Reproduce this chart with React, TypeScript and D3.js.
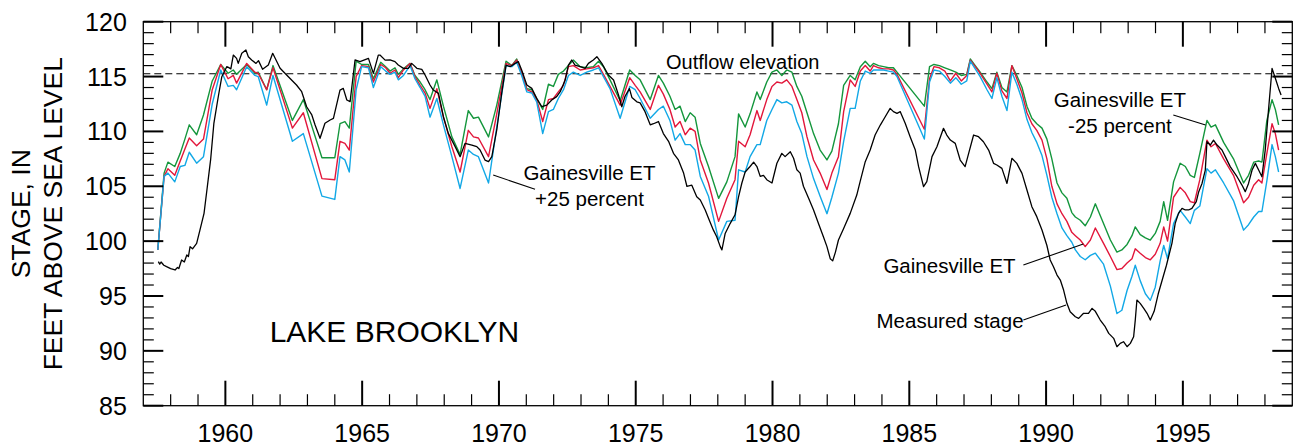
import React from "react";
import * as d3 from "d3";

// Simulated lake stage (ft above sea level) with Gainesville ET reduced 25 percent
const stageEtMinus25: [number, number][] = [
  [1957.53, 99.2], [1957.76, 106.2], [1957.9, 107.2], [1958.15, 106.8], [1958.35, 108.0], [1958.52, 109.3], [1958.68, 110.6], [1958.95, 109.7], [1959.2, 111.5], [1959.52, 114.6], [1959.83, 116.1],
  [1960.1, 115.3], [1960.29, 115.6], [1960.41, 115.2], [1960.78, 116.1], [1961.08, 115.3], [1961.2, 115.4], [1961.51, 113.8], [1961.74, 116.0], [1962.45, 111.0], [1962.85, 112.9],
  [1963.53, 107.6], [1964.0, 107.6], [1964.19, 110.7], [1964.37, 110.9], [1964.53, 110.3], [1964.78, 116.4], [1964.98, 116.1], [1965.23, 116.1], [1965.41, 114.8], [1965.68, 116.3], [1965.86, 115.9],
  [1966.02, 115.5], [1966.2, 115.8], [1966.32, 115.2], [1966.51, 115.7], [1966.75, 116.2], [1966.93, 115.1], [1967.12, 114.5], [1967.3, 113.8], [1967.48, 112.9], [1967.73, 114.7], [1967.97, 112.3],
  [1968.28, 109.5], [1968.58, 107.9], [1968.88, 111.9], [1969.07, 111.2], [1969.25, 111.3], [1969.62, 109.5], [1969.92, 112.4], [1970.26, 116.4], [1970.47, 116.0], [1970.65, 116.6], [1970.83, 115.3],
  [1971.02, 113.9], [1971.2, 113.8], [1971.38, 113.0], [1971.6, 112.0], [1971.81, 114.3], [1971.99, 114.1], [1972.17, 115.2], [1972.36, 115.5], [1972.54, 116.0], [1972.72, 116.5], [1972.97, 115.9],
  [1973.21, 115.8], [1973.45, 115.9], [1973.64, 116.4], [1973.82, 115.9], [1974.06, 114.7], [1974.43, 112.8], [1974.78, 115.6], [1974.98, 115.1], [1975.16, 114.7], [1975.53, 112.9], [1975.83, 115.1],
  [1976.01, 114.4], [1976.25, 113.2], [1976.44, 112.0], [1976.62, 112.3], [1976.81, 110.9], [1976.99, 111.7], [1977.17, 111.3], [1977.36, 108.9], [1977.66, 106.8], [1978.03, 103.9], [1978.33, 105.4],
  [1978.63, 107.7], [1978.76, 111.6], [1979.0, 110.4], [1979.18, 111.6], [1979.43, 113.6], [1979.55, 112.9], [1979.79, 114.5], [1979.98, 115.4], [1980.16, 115.6], [1980.34, 115.1], [1980.52, 115.6],
  [1980.71, 115.4], [1980.89, 114.1], [1981.07, 113.2], [1981.26, 111.7], [1981.5, 109.8], [1981.74, 108.3], [1981.99, 107.4], [1982.17, 108.2], [1982.41, 110.7], [1982.6, 114.2], [1982.84, 115.1],
  [1983.02, 114.7], [1983.21, 115.9], [1983.39, 116.4], [1983.57, 115.9], [1983.69, 116.2], [1983.88, 116.0], [1984.06, 115.9], [1984.24, 115.8], [1984.42, 115.8], [1984.55, 115.4], [1985.55, 112.3],
  [1985.74, 115.9], [1985.9, 116.1], [1986.1, 116.0], [1986.3, 115.8], [1986.5, 115.6], [1986.7, 115.4], [1986.9, 115.1], [1987.1, 115.2], [1987.23, 116.6], [1987.41, 116.0], [1987.59, 115.4],
  [1987.84, 114.5], [1988.02, 113.9], [1988.2, 115.4], [1988.385, 114.0], [1988.57, 113.6], [1988.75, 116.0], [1988.93, 115.1], [1989.12, 114.0], [1989.3, 112.3], [1989.48, 111.2], [1989.66, 110.7],
  [1989.85, 110.3], [1990.03, 109.3], [1990.21, 107.5], [1990.4, 105.3], [1990.58, 104.4], [1990.76, 103.9], [1990.94, 102.6], [1991.07, 102.2], [1991.25, 101.9], [1991.43, 101.4], [1991.62, 102.2],
  [1991.8, 103.4], [1992.1, 101.6], [1992.35, 100.1], [1992.59, 99.0], [1992.77, 99.2], [1992.96, 99.7], [1993.14, 100.5], [1993.26, 101.3], [1993.44, 100.6], [1993.63, 100.3], [1993.81, 100.1],
  [1993.99, 100.7], [1994.17, 101.8], [1994.3, 103.6], [1994.44, 101.9], [1994.66, 105.4], [1994.9, 107.1], [1995.09, 106.8], [1995.27, 106.0], [1995.42, 105.8], [1995.62, 108.0], [1995.88, 111.0],
  [1996.03, 110.4], [1996.19, 110.6], [1996.49, 109.0], [1996.85, 107.5], [1997.22, 105.3], [1997.4, 106.0], [1997.59, 107.2], [1997.77, 107.3], [1997.89, 107.2], [1998.07, 111.0], [1998.26, 112.9],
  [1998.38, 112.0], [1998.5, 110.6],
];

// Simulated lake stage with Gainesville ET
const stageEt: [number, number][] = [
  [1957.53, 99.2], [1957.76, 105.9], [1957.9, 106.6], [1958.15, 106.0], [1958.35, 107.3], [1958.52, 108.4], [1958.68, 109.4], [1958.95, 108.7], [1959.2, 109.3], [1959.52, 113.8], [1959.83, 116.1],
  [1960.1, 114.8], [1960.29, 115.1], [1960.41, 114.4], [1960.78, 116.2], [1961.08, 115.4], [1961.2, 115.3], [1961.51, 113.8], [1961.74, 115.8], [1962.45, 110.3], [1962.85, 111.7],
  [1963.53, 105.7], [1964.0, 105.6], [1964.19, 109.1], [1964.37, 108.9], [1964.53, 108.3], [1964.78, 115.0], [1964.98, 116.0], [1965.23, 115.9], [1965.41, 114.5], [1965.68, 116.1], [1965.86, 115.8],
  [1966.02, 115.3], [1966.2, 115.6], [1966.32, 114.9], [1966.51, 115.6], [1966.75, 116.2], [1966.93, 115.0], [1967.12, 114.2], [1967.3, 113.5], [1967.48, 112.1], [1967.73, 113.9], [1967.97, 111.3],
  [1968.28, 108.6], [1968.58, 106.3], [1968.88, 110.1], [1969.07, 109.5], [1969.25, 109.4], [1969.62, 107.7], [1969.92, 111.6], [1970.26, 116.2], [1970.47, 116.0], [1970.65, 116.5], [1970.83, 115.3],
  [1971.02, 113.8], [1971.2, 113.6], [1971.38, 112.9], [1971.6, 110.9], [1971.81, 112.9], [1971.99, 113.0], [1972.17, 113.6], [1972.36, 114.2], [1972.54, 115.9], [1972.72, 116.0], [1972.97, 115.6],
  [1973.21, 115.7], [1973.45, 115.8], [1973.64, 116.0], [1973.82, 115.2], [1974.06, 114.1], [1974.43, 112.4], [1974.78, 114.9], [1974.98, 114.2], [1975.16, 113.6], [1975.53, 112.0], [1975.83, 114.2],
  [1976.01, 113.4], [1976.25, 112.0], [1976.44, 110.4], [1976.62, 110.9], [1976.81, 109.7], [1976.99, 110.3], [1977.17, 110.0], [1977.36, 107.4], [1977.66, 105.3], [1978.03, 101.8], [1978.33, 103.9],
  [1978.63, 105.6], [1978.76, 109.1], [1979.0, 108.6], [1979.18, 109.7], [1979.43, 111.9], [1979.55, 111.0], [1979.79, 112.9], [1979.98, 114.1], [1980.16, 114.5], [1980.34, 114.4], [1980.52, 114.7],
  [1980.71, 114.1], [1980.89, 112.9], [1981.07, 111.7], [1981.26, 109.5], [1981.5, 107.4], [1981.74, 106.2], [1981.99, 104.7], [1982.17, 106.2], [1982.41, 107.7], [1982.6, 111.8], [1982.84, 114.7],
  [1983.02, 114.1], [1983.21, 115.5], [1983.39, 116.0], [1983.57, 115.5], [1983.69, 116.0], [1983.88, 115.8], [1984.06, 115.7], [1984.24, 115.7], [1984.42, 115.6], [1984.55, 115.2], [1985.55, 110.2],
  [1985.74, 114.8], [1985.9, 115.9], [1986.1, 115.8], [1986.3, 115.5], [1986.5, 114.6], [1986.7, 115.3], [1986.9, 114.6], [1987.1, 115.1], [1987.23, 116.5], [1987.41, 115.9], [1987.59, 115.3],
  [1987.84, 114.3], [1988.02, 113.6], [1988.2, 115.3], [1988.385, 113.7], [1988.57, 113.0], [1988.75, 116.0], [1988.93, 114.8], [1989.12, 113.5], [1989.3, 111.7], [1989.48, 110.7], [1989.66, 110.1],
  [1989.85, 109.2], [1990.03, 107.5], [1990.21, 105.0], [1990.4, 103.4], [1990.58, 102.5], [1990.76, 101.8], [1990.94, 100.8], [1991.07, 100.5], [1991.25, 100.1], [1991.43, 99.5], [1991.62, 100.1],
  [1991.8, 101.2], [1992.1, 99.8], [1992.35, 98.6], [1992.59, 97.4], [1992.77, 97.5], [1992.96, 98.0], [1993.14, 98.4], [1993.26, 99.3], [1993.44, 98.9], [1993.63, 98.5], [1993.81, 98.3],
  [1993.99, 98.8], [1994.17, 99.8], [1994.3, 101.3], [1994.44, 100.0], [1994.66, 104.0], [1994.9, 104.9], [1995.09, 104.4], [1995.27, 103.6], [1995.42, 103.5], [1995.62, 105.6], [1995.88, 109.2],
  [1996.03, 108.6], [1996.19, 108.9], [1996.49, 107.5], [1996.85, 106.0], [1997.22, 103.5], [1997.4, 104.0], [1997.59, 105.1], [1997.77, 105.6], [1997.89, 105.3], [1998.07, 108.0], [1998.26, 110.7],
  [1998.38, 109.8], [1998.5, 108.3],
];

// Simulated lake stage with Gainesville ET increased 25 percent
const stageEtPlus25: [number, number][] = [
  [1957.53, 99.2], [1957.76, 105.9], [1957.9, 106.2], [1958.15, 105.4], [1958.35, 106.8], [1958.52, 106.9], [1958.68, 108.1], [1958.95, 107.1], [1959.2, 107.7], [1959.52, 112.5], [1959.83, 115.6],
  [1960.1, 114.1], [1960.29, 114.2], [1960.41, 113.8], [1960.78, 115.9], [1961.08, 115.1], [1961.2, 115.0], [1961.51, 112.4], [1961.74, 115.1], [1962.45, 109.1], [1962.85, 109.8],
  [1963.53, 104.1], [1964.0, 103.8], [1964.19, 107.7], [1964.37, 107.4], [1964.53, 106.3], [1964.78, 113.8], [1964.98, 115.9], [1965.23, 115.8], [1965.41, 114.0], [1965.68, 115.9], [1965.86, 115.5],
  [1966.02, 115.2], [1966.2, 115.4], [1966.32, 114.7], [1966.51, 115.1], [1966.75, 116.0], [1966.93, 114.8], [1967.12, 114.0], [1967.3, 113.2], [1967.48, 111.3], [1967.73, 113.0], [1967.97, 110.6],
  [1968.28, 107.7], [1968.58, 104.8], [1968.88, 108.3], [1969.07, 107.9], [1969.25, 107.7], [1969.62, 105.3], [1969.92, 110.4], [1970.26, 116.0], [1970.47, 115.9], [1970.65, 116.3], [1970.83, 115.1],
  [1971.02, 113.6], [1971.2, 113.5], [1971.38, 112.7], [1971.6, 109.8], [1971.81, 111.8], [1971.99, 112.0], [1972.17, 113.0], [1972.36, 113.8], [1972.54, 115.1], [1972.72, 115.4], [1972.97, 115.1],
  [1973.21, 115.4], [1973.45, 115.6], [1973.64, 115.8], [1973.82, 115.0], [1974.06, 113.9], [1974.43, 111.2], [1974.78, 114.1], [1974.98, 113.8], [1975.16, 113.0], [1975.53, 111.2], [1975.83, 112.0],
  [1976.01, 112.3], [1976.25, 111.0], [1976.44, 109.2], [1976.62, 109.8], [1976.81, 108.8], [1976.99, 108.8], [1977.17, 108.3], [1977.36, 105.9], [1977.66, 104.1], [1978.03, 100.1], [1978.33, 101.8],
  [1978.63, 101.9], [1978.76, 106.5], [1979.0, 106.3], [1979.18, 107.7], [1979.43, 108.8], [1979.55, 108.8], [1979.79, 111.0], [1979.98, 112.0], [1980.16, 112.9], [1980.34, 112.6], [1980.52, 112.7],
  [1980.71, 112.4], [1980.89, 110.9], [1981.07, 109.8], [1981.26, 107.7], [1981.5, 105.7], [1981.74, 104.1], [1981.99, 102.5], [1982.17, 104.0], [1982.41, 106.2], [1982.6, 109.1], [1982.84, 112.1],
  [1983.02, 112.1], [1983.21, 114.6], [1983.39, 115.5], [1983.57, 115.3], [1983.69, 115.6], [1983.88, 115.6], [1984.06, 115.6], [1984.24, 115.5], [1984.42, 115.4], [1984.55, 115.0], [1985.55, 109.3],
  [1985.74, 114.5], [1985.9, 115.6], [1986.1, 115.5], [1986.3, 115.0], [1986.5, 114.4], [1986.7, 114.9], [1986.9, 114.3], [1987.1, 114.6], [1987.23, 116.4], [1987.41, 115.7], [1987.59, 115.0],
  [1987.84, 113.8], [1988.02, 113.0], [1988.2, 114.9], [1988.385, 113.2], [1988.57, 111.9], [1988.75, 115.4], [1988.93, 114.3], [1989.12, 112.9], [1989.3, 111.1], [1989.48, 109.9], [1989.66, 109.0],
  [1989.85, 107.8], [1990.03, 106.0], [1990.21, 104.0], [1990.4, 102.5], [1990.58, 101.2], [1990.76, 100.5], [1990.94, 99.9], [1991.07, 99.2], [1991.25, 98.6], [1991.43, 98.3], [1991.62, 98.7],
  [1991.8, 98.9], [1992.1, 97.9], [1992.35, 95.9], [1992.59, 93.4], [1992.77, 93.7], [1992.96, 95.5], [1993.14, 96.8], [1993.26, 97.8], [1993.44, 96.4], [1993.63, 95.2], [1993.81, 94.6],
  [1993.99, 95.8], [1994.17, 98.2], [1994.3, 99.6], [1994.44, 98.4], [1994.66, 101.6], [1994.9, 102.8], [1995.09, 102.2], [1995.27, 101.6], [1995.42, 102.8], [1995.62, 103.2], [1995.88, 106.6],
  [1996.03, 106.2], [1996.19, 106.5], [1996.49, 105.3], [1996.85, 103.7], [1997.22, 101.0], [1997.4, 101.5], [1997.59, 102.2], [1997.77, 102.7], [1997.89, 102.7], [1998.07, 105.5], [1998.26, 108.8],
  [1998.38, 107.7], [1998.5, 106.3],
];

// Measured stage of Lake Brooklyn
const measuredStage: [number, number][] = [
  [1957.55, 98.13], [1957.6, 97.9], [1957.65, 98.1], [1957.75, 97.8], [1957.85, 97.67], [1958.0, 97.5], [1958.16, 97.37], [1958.25, 97.6], [1958.3, 97.5], [1958.4, 98.28], [1958.5, 98.1],
  [1958.59, 98.74], [1958.65, 98.6], [1958.71, 99.49], [1958.8, 99.3], [1958.95, 99.8], [1959.07, 101.0], [1959.22, 102.53], [1959.34, 104.96], [1959.46, 107.4], [1959.58, 110.74], [1959.74, 113.16],
  [1959.87, 114.99], [1960.05, 115.9], [1960.11, 115.84], [1960.2, 115.7], [1960.29, 116.96], [1960.41, 116.66], [1960.47, 116.2], [1960.6, 117.12], [1960.75, 117.42], [1960.84, 116.81], [1960.96, 116.51],
  [1961.12, 116.2], [1961.21, 116.45], [1961.36, 115.66], [1961.57, 116.05], [1961.73, 117.12], [1962.0, 115.76], [1962.24, 115.14], [1962.6, 114.23], [1962.79, 113.62], [1962.97, 112.25], [1963.16, 111.5],
  [1963.28, 110.58], [1963.46, 109.37], [1963.64, 110.74], [1963.83, 111.04], [1963.95, 111.19], [1964.19, 113.77], [1964.31, 113.92], [1964.44, 112.86], [1964.56, 112.71], [1964.74, 116.51], [1964.92, 116.36],
  [1965.23, 116.66], [1965.41, 115.29], [1965.59, 116.96], [1965.65, 116.96], [1965.84, 116.5], [1966.02, 116.51], [1966.2, 116.36], [1966.32, 116.05], [1966.51, 115.75], [1966.69, 115.75], [1966.81, 116.2],
  [1967.0, 115.75], [1967.18, 115.66], [1967.3, 115.14], [1967.48, 114.23], [1967.6, 113.77], [1967.79, 113.47], [1967.97, 111.34], [1968.15, 109.82], [1968.4, 108.61], [1968.58, 107.7], [1968.76, 108.91],
  [1969.01, 108.76], [1969.19, 108.61], [1969.31, 108.3], [1969.49, 107.39], [1969.62, 107.24], [1969.74, 107.7], [1969.92, 110.13], [1970.1, 113.47], [1970.26, 116.05], [1970.41, 115.9], [1970.59, 116.2],
  [1970.71, 116.36], [1970.83, 115.6], [1971.02, 114.23], [1971.2, 113.92], [1971.38, 113.01], [1971.57, 112.25], [1971.75, 112.4], [1971.93, 112.86], [1972.11, 113.17], [1972.24, 113.62], [1972.42, 114.68],
  [1972.54, 116.05], [1972.66, 116.51], [1972.78, 116.05], [1972.97, 115.9], [1973.15, 115.75], [1973.27, 116.2], [1973.45, 116.51], [1973.58, 116.81], [1973.76, 116.2], [1974.0, 115.14], [1974.19, 114.68],
  [1974.37, 113.32], [1974.49, 112.25], [1974.61, 113.2], [1974.77, 113.9], [1974.86, 113.1], [1975.04, 112.7], [1975.16, 112.6], [1975.34, 111.8], [1975.53, 110.6], [1975.65, 110.7], [1975.83, 110.9],
  [1976.01, 109.8], [1976.2, 109.1], [1976.38, 108.0], [1976.56, 107.4], [1976.75, 106.2], [1976.87, 105.0], [1977.05, 105.1], [1977.23, 104.05], [1977.36, 103.75], [1977.54, 102.84], [1977.66, 102.08],
  [1977.84, 101.0], [1977.96, 100.4], [1978.09, 99.5], [1978.15, 99.2], [1978.27, 100.7], [1978.45, 101.6], [1978.63, 102.4], [1978.76, 104.05], [1978.88, 105.3], [1979.0, 106.3], [1979.18, 106.8],
  [1979.31, 107.2], [1979.43, 106.8], [1979.55, 105.9], [1979.67, 106.0], [1979.79, 105.6], [1979.98, 105.3], [1980.16, 107.1], [1980.34, 108.0], [1980.46, 107.7], [1980.65, 108.15], [1980.77, 107.55],
  [1980.89, 106.5], [1981.01, 106.2], [1981.13, 105.0], [1981.32, 103.9], [1981.5, 102.84], [1981.68, 101.6], [1981.86, 100.4], [1981.99, 99.5], [1982.11, 98.4], [1982.2, 98.2], [1982.3, 99.0],
  [1982.41, 100.1], [1982.6, 101.16], [1982.84, 102.53], [1983.08, 104.2], [1983.2, 105.4], [1983.39, 107.24], [1983.57, 108.3], [1983.75, 109.67], [1983.94, 110.58], [1984.12, 111.34], [1984.3, 112.1],
  [1984.42, 111.8], [1984.55, 111.65], [1984.67, 111.8], [1984.85, 110.74], [1985.03, 109.52], [1985.22, 108.3], [1985.34, 106.79], [1985.52, 104.96], [1985.64, 105.42], [1985.83, 107.7], [1986.01, 108.61],
  [1986.25, 110.28], [1986.37, 109.67], [1986.5, 109.21], [1986.68, 108.91], [1986.86, 107.39], [1987.04, 106.79], [1987.17, 108.0], [1987.35, 109.67], [1987.53, 109.52], [1987.71, 109.06], [1987.9, 108.3],
  [1988.08, 107.09], [1988.2, 106.94], [1988.385, 106.63], [1988.57, 105.26], [1988.75, 107.55], [1988.93, 107.09], [1989.12, 106.18], [1989.3, 104.66], [1989.48, 103.14], [1989.66, 102.23], [1989.85, 101.02],
  [1990.03, 99.6], [1990.15, 98.28], [1990.27, 97.67], [1990.4, 96.91], [1990.52, 96.45], [1990.64, 95.54], [1990.76, 94.33], [1990.88, 93.57], [1991.07, 93.11], [1991.19, 92.96], [1991.37, 93.42],
  [1991.55, 93.42], [1991.68, 93.87], [1991.8, 93.6], [1991.98, 92.81], [1992.16, 92.2], [1992.29, 91.59], [1992.47, 91.14], [1992.59, 90.38], [1992.71, 90.68], [1992.83, 90.83], [1992.96, 90.38],
  [1993.08, 90.68], [1993.2, 91.29], [1993.26, 92.8], [1993.32, 94.63], [1993.44, 94.33], [1993.57, 93.87], [1993.69, 93.42], [1993.81, 92.81], [1993.95, 93.6], [1994.1, 95.2], [1994.25, 96.5],
  [1994.4, 97.8], [1994.6, 99.8], [1994.72, 101.62], [1994.84, 102.53], [1994.97, 102.99], [1995.09, 102.84], [1995.21, 102.84], [1995.33, 102.99], [1995.49, 103.6], [1995.58, 104.51], [1995.7, 105.26],
  [1995.82, 106.48], [1995.88, 109.06], [1996.0, 108.76], [1996.12, 109.21], [1996.25, 108.76], [1996.43, 108.3], [1996.55, 107.7], [1996.73, 106.79], [1996.98, 105.87], [1997.16, 105.11], [1997.28, 104.51],
  [1997.4, 105.26], [1997.53, 106.48], [1997.65, 107.09], [1997.77, 106.48], [1997.89, 105.87], [1998.01, 108.3], [1998.13, 111.95], [1998.26, 115.75], [1998.38, 114.84], [1998.5, 113.92], [1998.59, 113.32],
];

const yearDomain = [1957, 1999];
const stageDomain = [85, 120];
const yearLabels = [1960, 1965, 1970, 1975, 1980, 1985, 1990, 1995];
const stageLabels = [85, 90, 95, 100, 105, 110, 115, 120];
const outflowElevation = 115.25;

const seriesColors = {
  minus25: "#14963c",
  base: "#e2173b",
  plus25: "#12a8e6",
  measured: "#000000",
};

// Callout text, placed in data units, with optional leader lines
type Callout = {
  lines: string[];
  at: [number, number];
  size: number;
  leader?: [[number, number], [number, number]];
};

const callouts: Callout[] = [
  { lines: ["Outflow elevation"], at: [1978.91, 115.69], size: 20 },
  { lines: ["Gainesville ET", "+25 percent"], at: [1973.31, 105.57], size: 20.5, leader: [[1969.79, 106.03], [1971.32, 104.72]] },
  { lines: ["Gainesville ET", "-25 percent"], at: [1992.7, 112.22], size: 20.5, leader: [[1994.65, 111.5], [1995.83, 110.58]] },
  { lines: ["Gainesville ET"], at: [1986.47, 97.07], size: 20.5, leader: [[1989.17, 97.82], [1991.36, 99.74]] },
  { lines: ["Measured stage"], at: [1986.49, 92.05], size: 20.5, leader: [[1989.17, 92.81], [1990.73, 94.18]] },
  { lines: ["LAKE BROOKLYN"], at: [1966.18, 90.83], size: 30 },
];

const FONT = "'Liberation Sans', Arial, Helvetica, sans-serif";

export default function App() {
  const width = 1298;
  const height = 445;
  const left = 143.3;
  const right = 1292.3;
  const top = 21.7;
  const bottom = 405.7;

  const x = d3.scaleLinear().domain(yearDomain).range([left, right]);
  const y = d3.scaleLinear().domain(stageDomain).range([bottom, top]);
  const line = d3
    .line<[number, number]>()
    .x((d) => x(d[0]))
    .y((d) => y(d[1]));

  const minorYears = d3.range(1958, 1999).filter((v) => v % 5 !== 0);
  const minorStages = d3.range(86, 120).filter((v) => v % 5 !== 0);

  const series: [string, [number, number][]][] = [
    [seriesColors.minus25, stageEtMinus25],
    [seriesColors.base, stageEt],
    [seriesColors.plus25, stageEtPlus25],
    [seriesColors.measured, measuredStage],
  ];

  return (
    <svg
      width={width}
      height={height}
      style={{ position: "absolute", left: 0, top: 0, background: "#fff" }}
      fontFamily={FONT}
    >
      <rect x={0} y={0} width={width} height={height} fill="#fff" />

      {/* outflow elevation */}
      <line
        x1={x(yearDomain[0])}
        x2={x(yearDomain[1])}
        y1={y(outflowElevation)}
        y2={y(outflowElevation)}
        stroke="#000"
        strokeWidth={1.1}
        strokeDasharray="7 4"
      />

      {/* stage series */}
      <g fill="none" strokeLinejoin="round">
        {series.map(([color, data], i) => (
          <path key={i} d={line(data) || ""} stroke={color} strokeWidth={i === 3 ? 1.3 : 1.4} />
        ))}
      </g>

      {/* frame */}
      <rect x={left} y={top} width={right - left} height={bottom - top} fill="none" stroke="#000" strokeWidth={1.3} />

      {/* year ticks, top and bottom, pointing inward */}
      <g stroke="#000">
        {yearLabels.map((v) => (
          <g key={`yM${v}`} strokeWidth={2}>
            <line x1={x(v)} x2={x(v)} y1={bottom} y2={bottom - 25} />
            <line x1={x(v)} x2={x(v)} y1={top} y2={top + 25} />
          </g>
        ))}
        {minorYears.map((v) => (
          <g key={`ym${v}`} strokeWidth={1.2}>
            <line x1={x(v)} x2={x(v)} y1={bottom} y2={bottom - 11.5} />
            <line x1={x(v)} x2={x(v)} y1={top} y2={top + 11.5} />
          </g>
        ))}
        {stageLabels.map((v) => (
          <g key={`sM${v}`} strokeWidth={2}>
            <line x1={left} x2={left + 20} y1={y(v)} y2={y(v)} />
            <line x1={right} x2={right - 20} y1={y(v)} y2={y(v)} />
          </g>
        ))}
        {minorStages.map((v) => (
          <g key={`sm${v}`} strokeWidth={1.2}>
            <line x1={left} x2={left + 10.5} y1={y(v)} y2={y(v)} />
            <line x1={right} x2={right - 10.5} y1={y(v)} y2={y(v)} />
          </g>
        ))}
      </g>

      {/* tick labels */}
      <g fontSize={25} fill="#000">
        {stageLabels.map((v) => (
          <text key={`sl${v}`} x={left - 16.5} y={y(v) + 9} textAnchor="end">
            {v}
          </text>
        ))}
        {yearLabels.map((v) => (
          <text key={`yl${v}`} x={x(v)} y={441.5} textAnchor="middle">
            {v}
          </text>
        ))}
      </g>

      {/* axis title */}
      <g fontSize={26.5} fill="#000" textAnchor="middle">
        <text transform={`translate(30, ${(top + bottom) / 2}) rotate(-90)`}>STAGE, IN</text>
        <text transform={`translate(62, ${(top + bottom) / 2}) rotate(-90)`}>FEET ABOVE SEA LEVEL</text>
      </g>

      {/* callouts */}
      <g fill="#000">
        {callouts.map((c, i) => (
          <g key={`c${i}`}>
            {c.leader && (
              <line
                x1={x(c.leader[0][0])}
                y1={y(c.leader[0][1])}
                x2={x(c.leader[1][0])}
                y2={y(c.leader[1][1])}
                stroke="#000"
                strokeWidth={1.1}
              />
            )}
            <text x={x(c.at[0])} y={y(c.at[1])} fontSize={c.size} textAnchor="middle">
              {c.lines.map((t, j) => (
                <tspan key={j} x={x(c.at[0])} dy={j === 0 ? 0 : 25.5}>
                  {t}
                </tspan>
              ))}
            </text>
          </g>
        ))}
      </g>
    </svg>
  );
}
